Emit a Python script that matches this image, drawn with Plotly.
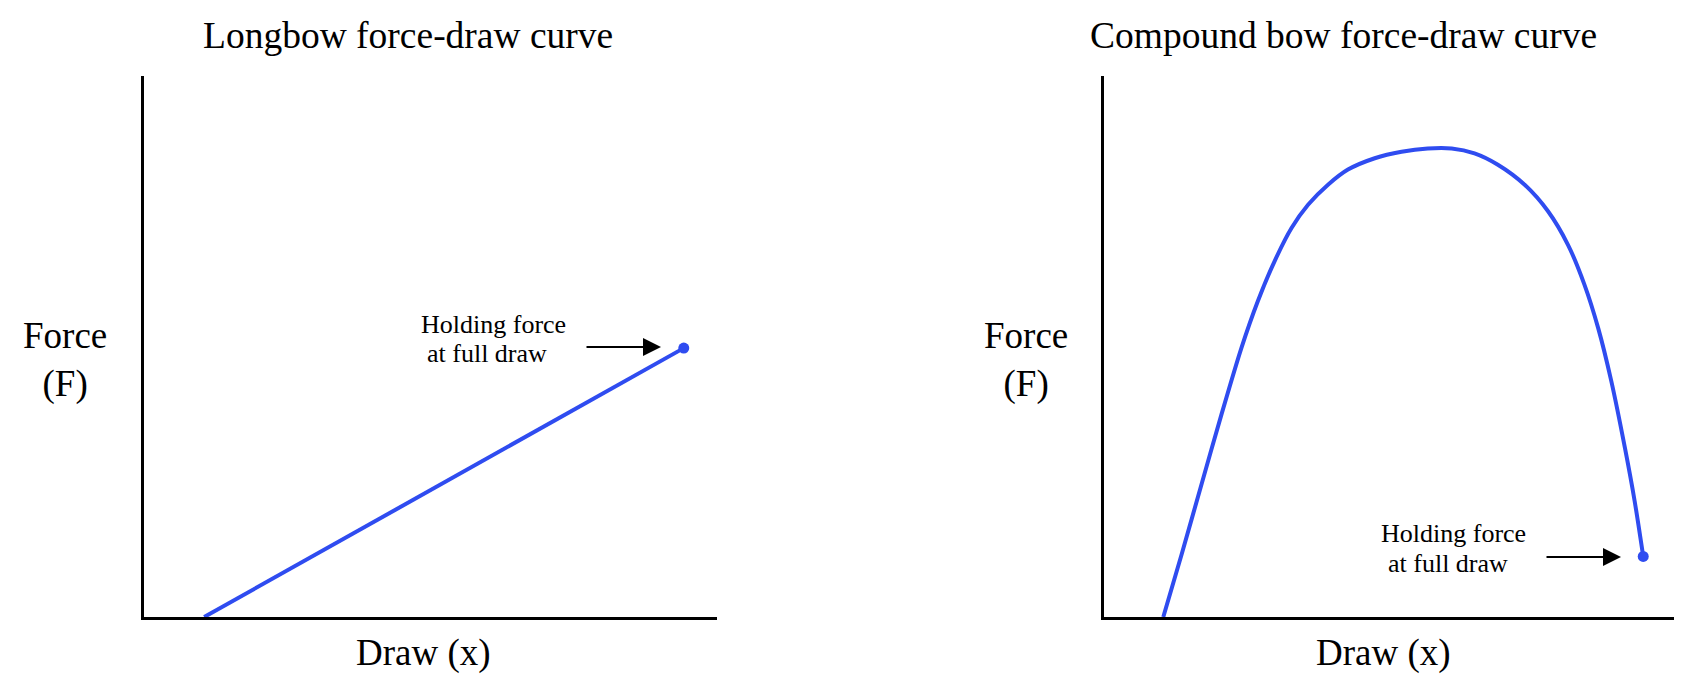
import plotly.graph_objects as go

# Longbow: linear force-draw
longbow_x = [1.05, 9.42]
longbow_f = [0.0, 4.97]

# Compound bow force-draw curve
compound_x = [1.04, 1.36, 1.71, 2.06, 2.41, 2.70, 2.99, 3.29, 3.58, 3.93, 4.28, 4.75, 5.22, 5.68,
              6.10, 6.50, 6.91, 7.38, 7.79, 8.14, 8.43, 8.67, 8.90, 9.14, 9.31, 9.46]
compound_f = [0.00, 1.15, 2.45, 3.74, 4.97, 5.84, 6.57, 7.19, 7.62, 7.99, 8.27, 8.48, 8.60, 8.66,
              8.66, 8.57, 8.36, 7.99, 7.50, 6.88, 6.14, 5.34, 4.36, 3.12, 2.14, 1.12]

titles = ["Longbow force-draw curve", "Compound bow force-draw curve"]
x_label = "Draw (x)"
y_label = "Force<br>(F)"
hold_lines = ["Holding force", "at full draw"]

BLUE = "#2f4cf0"
FONT = "Liberation Serif"
W, H = 1683, 675

def px(xpix):
    return xpix / W

def py(ypix):
    return 1 - ypix / H

fig = go.Figure()
fig.add_trace(go.Scatter(x=longbow_x, y=longbow_f, mode="lines",
                         line=dict(color=BLUE, width=4), xaxis="x", yaxis="y",
                         showlegend=False, hoverinfo="skip"))
fig.add_trace(go.Scatter(x=[longbow_x[-1]], y=[longbow_f[-1]], mode="markers",
                         marker=dict(color=BLUE, size=11), xaxis="x", yaxis="y",
                         showlegend=False, hoverinfo="skip"))
fig.add_trace(go.Scatter(x=compound_x, y=compound_f, mode="lines",
                         line=dict(color=BLUE, width=4, shape="spline", smoothing=0.8),
                         xaxis="x2", yaxis="y2", showlegend=False, hoverinfo="skip"))
fig.add_trace(go.Scatter(x=[compound_x[-1]], y=[compound_f[-1]], mode="markers",
                         marker=dict(color=BLUE, size=11), xaxis="x2", yaxis="y2",
                         showlegend=False, hoverinfo="skip"))

ax_common = dict(range=[0, 10], showgrid=False, zeroline=False, showticklabels=False,
                 ticks="", showline=True, linecolor="black", linewidth=2.5, fixedrange=True)

y_dom = [py(609), py(68)]
fig.update_layout(
    width=W, height=H,
    margin=dict(l=0, r=0, t=0, b=0),
    paper_bgcolor="white", plot_bgcolor="white",
    xaxis=dict(domain=[px(136), px(709)], anchor="y", **ax_common),
    yaxis=dict(domain=y_dom, anchor="x", **ax_common),
    xaxis2=dict(domain=[px(1096), px(1666)], anchor="y2", **ax_common),
    yaxis2=dict(domain=y_dom, anchor="x2", **ax_common),
    font=dict(family=FONT, color="black"),
)

def txt(t, cx, cy, size):
    return dict(text=t, x=px(cx), y=py(cy), xref="paper", yref="paper",
                showarrow=False, font=dict(size=size, family=FONT, color="black"),
                xanchor="center", yanchor="middle")

ann = []
ann.append(txt(titles[0], 400, 28, 37.5))
ann.append(txt(titles[1], 1335, 28, 37.5))
for cx in (57, 1018):
    ann.append(txt(y_label, cx, 352, 37))
for cx in (415, 1375):
    ann.append(txt(x_label, cx, 645, 37))
# holding force labels (two lines each)
ann.append(txt(hold_lines[0], 485, 316, 26))
ann.append(txt(hold_lines[1], 479, 345, 26))
ann.append(txt(hold_lines[0], 1445, 525, 26))
ann.append(txt(hold_lines[1], 1440, 555, 26))
# arrows
for (tx, ty) in ((653, 339), (1613, 549)):
    ann.append(dict(text="", x=px(tx), y=py(ty), xref="paper", yref="paper",
                    ax=-76, ay=0, showarrow=True, arrowhead=2, arrowsize=2.0,
                    arrowwidth=1.8, arrowcolor="black"))

fig.update_layout(annotations=ann)
fig.write_html("out.html", config={"displayModeBar": False})
